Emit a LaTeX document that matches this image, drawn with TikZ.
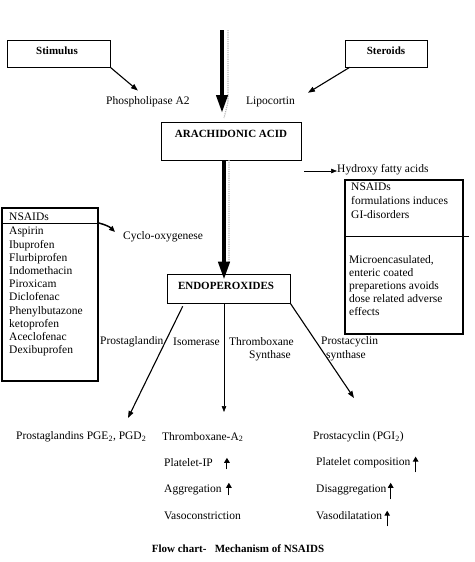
\documentclass[tikz,border=0pt]{standalone}
\usepackage{fontspec}
\setmainfont{Liberation Serif}
\usetikzlibrary{arrows.meta,calc}
\begin{document}
\begin{tikzpicture}[x=1pt,y=-1pt,
  txt/.style={inner sep=0pt,anchor=west,font=\fontsize{11.5}{13.2}\selectfont},
  btxt/.style={inner sep=0pt,font=\fontsize{11}{13}\selectfont\bfseries},
  thinbox/.style={draw,line width=0.6pt,inner sep=0pt},
  thickbox/.style={draw,line width=1.6pt,inner sep=0pt},
  bigarrow/.style={line width=4pt,-{Triangle[length=18pt,width=11pt]}},
  shadowline/.style={gray!55,line width=1.2pt,densely dotted},
  thinarrow/.style={line width=1.1pt,-{Triangle[length=7pt,width=5pt]}},
  hairarrow/.style={line width=0.6pt,-{Triangle[length=6pt,width=4.5pt]}},
  uparrow/.style={line width=1.1pt,-{Triangle[length=5pt,width=5.5pt]}}
]
\useasboundingbox[fill=white] (0,0) rectangle (474,562);

% top boxes
\node[thinbox,minimum width=103pt,minimum height=27pt] (stim) at (58.5,53.5) {};
\node[btxt] at (57,51) {Stimulus};
\node[thinbox,minimum width=82pt,minimum height=27pt] (ster) at (386,53.5) {};
\node[btxt] at (386,51) {Steroids};

\node[txt] (phos) at (106,102) {Phospholipase A2};
\node[txt] (lipo) at (246,102) {Lipocortin};

\draw[thinarrow] (stim.south east) -- ($(phos.north)+(-10,-6)$);
\draw[thinarrow] ($(ster.south west)+(5,0)$) -- ($(lipo.north east)+(13,-4)$);

% arachidonic acid
\node[thinbox,minimum width=140pt,minimum height=38pt] (ara) at (231,141) {};
\node[btxt] at (231,134) {ARACHIDONIC ACID};

\coordinate (top) at (222,30);
\coordinate (a1end) at (222,113);
\draw[shadowline] (228,30) -- (228,102) -- (224,118);
\draw[bigarrow] (top) -- (a1end);

% endoperoxides
\node[thinbox,minimum width=123pt,minimum height=29pt] (endo) at (228.5,288.5) {};
\node[btxt] at (226,286) {ENDOPEROXIDES};

\coordinate (a2) at (224,0);
\draw[shadowline] (229,160) -- (229,262) -- (225,272);
\draw[bigarrow] (ara.south -| a2) -- ([yshift=-6pt]endo.north -| a2);

% hydroxy fatty acids
\node[txt] (hyd) at (337,170) {Hydroxy fatty acids};
\coordinate (hydstart) at (304,171);
\draw[hairarrow] (hydstart) -- (hydstart -| hyd.west);

% right box
\node[thickbox,minimum width=118pt,minimum height=154pt] (rbox) at (404,257) {};
\coordinate (rdend) at (469,236);
\draw[line width=0.6pt] (rbox.west |- rdend) -- (rdend);
\node[txt,align=left,anchor=north west,font=\fontsize{11.5}{14}\selectfont] (rt1) at (351,183)
  {NSAIDs\\formulations induces\\GI-disorders};
\node[txt,align=left,anchor=north west,font=\fontsize{11.5}{13}\selectfont] (rt2) at (349,255)
  {Microencasulated,\\enteric coated\\preparetions avoids\\dose related adverse\\effects};

% left box
\node[thickbox,minimum width=96pt,minimum height=173pt] (lbox) at (50,294.5) {};
\coordinate (ld) at (0,223);
\draw[line width=0.6pt] (lbox.west |- ld) -- (lbox.east |- ld);
\node[txt] (lhead) at (9,217) {NSAIDs};
\node[txt,align=left,anchor=north west,font=\fontsize{11.5}{13.2}\selectfont] (llist) at (9,227)
  {Aspirin\\Ibuprofen\\Flurbiprofen\\Indomethacin\\Piroxicam\\Diclofenac\\Phenylbutazone\\ketoprofen\\Aceclofenac\\Dexibuprofen};

\node[txt] (cox) at (123,237) {Cyclo-oxygenese};
\draw[line width=1.5pt,-{Triangle[length=6pt,width=5pt]}] (lbox.east |- ld) to[bend left=15] ($(cox.west)+(-8,-5)$);

% branch arrows
\coordinate (lend) at (128,418);
\coordinate (mend) at (224,412);
\coordinate (rend) at (354,398);
\draw[thinarrow] ($(endo.south west)+(16,3)$) -- (lend);
\draw[hairarrow] (endo.south -| a2) -- (mend);
\draw[thinarrow] (endo.south east) -- (rend);

\node[txt] (l1) at (100,342) {Prostaglandin};
\node[txt] (l2) at (173,342) {Isomerase};
\node[txt] (l3) at (229,342) {Thromboxane};
\node[txt] (l4) at (249,356) {Synthase};
\node[txt] (l5) at (321,342) {Prostacyclin};
\node[txt] (l6) at (326,356) {synthase};

% products
\node[txt] (p1) at (16,437) {Prostaglandins PGE\textsubscript{2}, PGD\textsubscript{2}};
\node[txt] (p2) at (162,437) {Thromboxane-A\textsubscript{2}};
\node[txt] (p3) at (313,437) {Prostacyclin (PGI\textsubscript{2})};

\node[txt] (t1) at (164,463) {Platelet-IP};
\node[txt] (t2) at (164,490) {Aggregation};
\node[txt] (t3) at (164,516) {Vasoconstriction};
\node[txt] (c1) at (316,463) {Platelet composition};
\node[txt] (c2) at (316,490) {Disaggregation};
\node[txt] (c3) at (316,516) {Vasodilatation};

\draw[uparrow] ($(t1.south east)+(14,2)$) -- ($(t1.north east)+(14,-1)$);
\draw[uparrow] ($(t2.south east)+(7,0)$) -- ($(t2.north east)+(7,-2)$);
\draw[uparrow] ($(c1.south east)+(5,4)$) -- ($(c1.north east)+(5,-1)$);
\draw[uparrow] ($(c2.south east)+(4,4)$) -- ($(c2.north east)+(4,-2)$);
\draw[uparrow] ($(c3.south east)+(5,6)$) -- ($(c3.north east)+(5,-1)$);

\node[btxt] (cap) at (238,549) {Flow chart-\ \ \ Mechanism of NSAIDS};
\end{tikzpicture}
\end{document}
